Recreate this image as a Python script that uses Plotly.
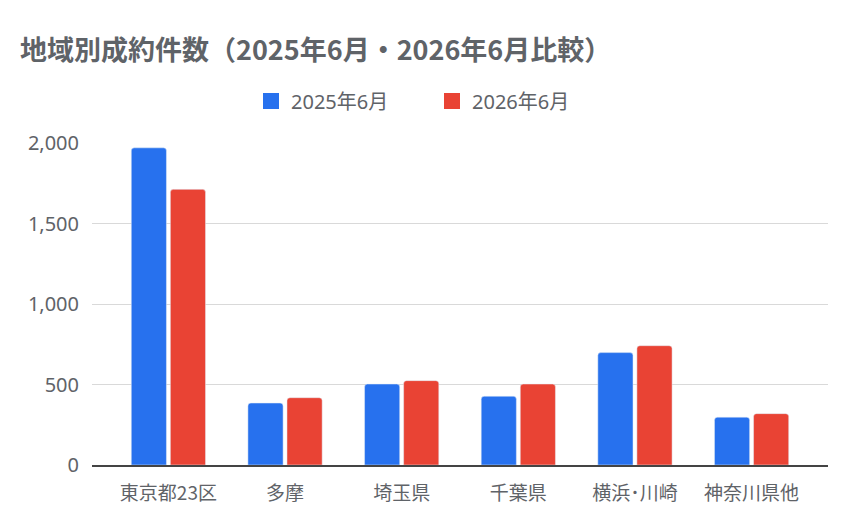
import plotly.graph_objects as go

categories = ["東京都23区", "多摩", "埼玉県", "千葉県", "横浜･川崎", "神奈川県他"]
series_2025 = [1970, 385, 503, 427, 698, 297]
series_2026 = [1712, 418, 524, 503, 741, 319]
series_names = ["2025年6月", "2026年6月"]
y_ticks = [0, 500, 1000, 1500, 2000]

BLUE = "#2771EE"
RED = "#E94334"
TEXT = "#5F6368"
FONT = "'Noto Sans', 'Noto Sans CJK JP', sans-serif"
CJK = "'Noto Sans CJK JP', sans-serif"

fig = go.Figure()
fig.add_trace(go.Bar(x=categories, y=series_2025, name=series_names[0], marker_color=BLUE, showlegend=False))
fig.add_trace(go.Bar(x=categories, y=series_2026, name=series_names[1], marker_color=RED, showlegend=False))
# legend entries with larger square swatches
for nm, col in zip(series_names, [BLUE, RED]):
    fig.add_trace(go.Scatter(x=[None], y=[None], mode="markers", name=nm,
                             marker=dict(symbol="square", size=16, color=col)))

fig.update_layout(
    width=855, height=527,
    margin=dict(l=92, r=27, t=143, b=62, autoexpand=False),
    paper_bgcolor="white", plot_bgcolor="white",
    barmode="group", bargap=0.33, bargroupgap=0.1, barcornerradius=3,
    font=dict(family=FONT, color=TEXT),
    title=dict(text="<b>地域別成約件数（2025年6月・2026年6月比較）</b>",
               x=20/855, xanchor="left", xref="container",
               y=1-51/527, yanchor="middle", yref="container",
               font=dict(size=27, color=TEXT, family=CJK)),
    legend=dict(orientation="h", x=432/855, xanchor="center", xref="container",
                y=1-101/527, yanchor="middle", yref="container",
                font=dict(size=20, color=TEXT, family=FONT),
                itemwidth=30,
                entrywidth=136, entrywidthmode="pixels"),
    showlegend=True,
)
fig.update_xaxes(range=[-0.655, 5.655], showline=True, linecolor="#444444", linewidth=1.5,
                 showgrid=False, tickfont=dict(size=19, color=TEXT, family=CJK),
                 ticklabelstandoff=10)
fig.update_yaxes(range=[0, 2000], tickvals=y_ticks, tickformat=",", showgrid=True,
                 gridcolor="#D9D9D9", gridwidth=1, zeroline=False,
                 tickfont=dict(size=20, color=TEXT, family=FONT), ticklabelstandoff=12)

fig.write_html("out.html")
